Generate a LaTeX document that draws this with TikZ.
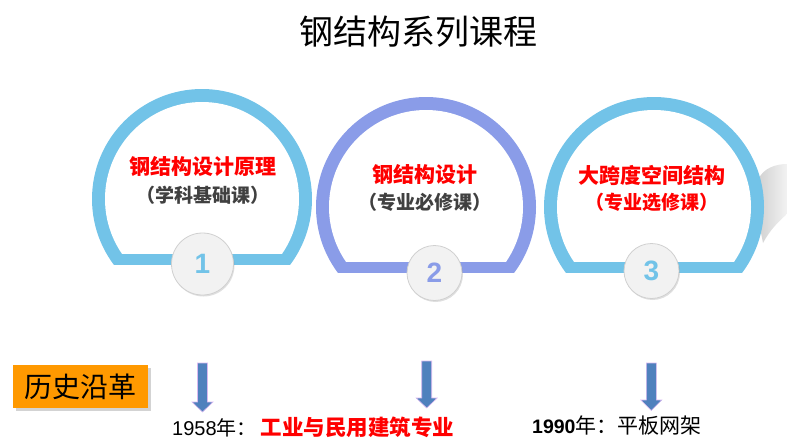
\documentclass[tikz,border=0pt]{standalone}
\usepackage{fontspec}
\setmainfont{Liberation Sans}
\newfontfamily\cjk{Noto Sans CJK SC}
\usetikzlibrary{shadows}
\definecolor{skyb}{HTML}{72C3E8}
\definecolor{peri}{HTML}{8A9CE8}
\definecolor{arrowblue}{HTML}{4F81BD}
\definecolor{arrowedge}{HTML}{D8B8F0}
\definecolor{orangebox}{HTML}{FF9900}
\definecolor{darktext}{HTML}{404040}
\definecolor{redtext}{HTML}{FF0000}
\definecolor{numfill}{HTML}{F2F2F2}
\definecolor{numedge}{HTML}{D0D0D0}
\newcommand\fsz[1]{\fontsize{#1}{#1}\selectfont}
\newcommand\coursearc[3]{%
  \begin{scope}\clip (#1-120,#2-120) rectangle (#1+120,#2+65);
    \fill[#3] (#1,#2) circle[radius=110];\end{scope}
  \begin{scope}\clip (#1-120,#2-120) rectangle (#1+120,#2+54);
    \fill[white] (#1,#2) circle[radius=97];\end{scope}}
\newcommand\blockarrow[4]{%
  \filldraw[arrowshape] (#1-5,#2) -- (#1+5,#2) -- (#1+5,#3) -- (#1+10.5,#3)
    -- (#1,#4) -- (#1-10.5,#3) -- (#1-5,#3) -- cycle;}
\tikzset{
  arrowshape/.style={fill=arrowblue, draw=arrowedge, line width=0.6pt},
  numcircle/.style={circle, fill=numfill, draw=numedge, line width=0.8pt,
    inner sep=0pt, font=\fsz{28}\bfseries,
    drop shadow={shadow xshift=1pt, shadow yshift=-1.5pt, opacity=0.25}},
  redline/.style={inner sep=0pt, text=redtext, font=\cjk\bfseries\fsz{21}},
  subline/.style={inner sep=0pt, text=darktext, font=\cjk\bfseries\fsz{19}},
  histbox/.style={fill=orangebox, minimum width=135pt, minimum height=43pt,
    inner sep=0pt, font=\cjk\fsz{28},
    drop shadow={shadow xshift=2.5pt, shadow yshift=-2.5pt, opacity=0.35}},
}
\begin{document}
\begin{tikzpicture}[x=1pt,y=-1pt]
\useasboundingbox (0,0) rectangle (787,439);
% title
\node[inner sep=0pt] (title) at (418,32) {\cjk\fsz{34}钢结构系列课程};
% gray curl behind third arc
\shade[left color=black!18, right color=black!5]
  (758,180) .. controls (763,168) and (776,164) .. (787,164) -- (787,214)
  .. controls (778,222) and (770,230) .. (763,243) -- (760,228) -- cycle;
% arcs
\coursearc{202}{199}{skyb}
\coursearc{426}{207}{peri}
\coursearc{654}{207}{skyb}
% arc texts
\node[redline] (c1a) at (203,167) {钢结构设计原理};
\node[subline] (c1b) at (203,195) {（学科基础课）};
\node[redline] (c2a) at (425,175) {钢结构设计};
\node[subline] (c2b) at (425,202) {（专业必修课）};
\node[redline] (c3a) at (652,175) {大跨度空间结构};
\node[subline, text=redtext] (c3b) at (652,202) {（专业选修课）};
% number circles
\node[numcircle, minimum size=62pt, text=skyb] (n1) at (202.5,264) {1};
\node[numcircle, minimum size=55pt, text=peri] (n2) at (434.5,273) {2};
\node[numcircle, minimum size=55pt, text=skyb] (n3) at (651.5,271) {3};
% history box
\node[histbox] (hist) at (80.5,386.5) {历史沿革};
% arrows
\blockarrow{202.5}{363}{402}{412}
\blockarrow{426.7}{361}{398}{408}
\blockarrow{651.3}{363}{400}{410.5}
% bottom texts
\node[anchor=base west, inner sep=0pt] (y1) at (172,435.5)
  {{\fsz{20}1958}{\cjk\fsz{20}年：}\hspace{4pt}{\cjk\bfseries\fsz{21.5}\color{redtext}工业与民用建筑专业}};
\node[anchor=base west, inner sep=0pt] (y2) at (532,433)
  {{\bfseries\fsz{19.5}1990}{\cjk\fsz{21}年：平板网架}};
\end{tikzpicture}
\end{document}
